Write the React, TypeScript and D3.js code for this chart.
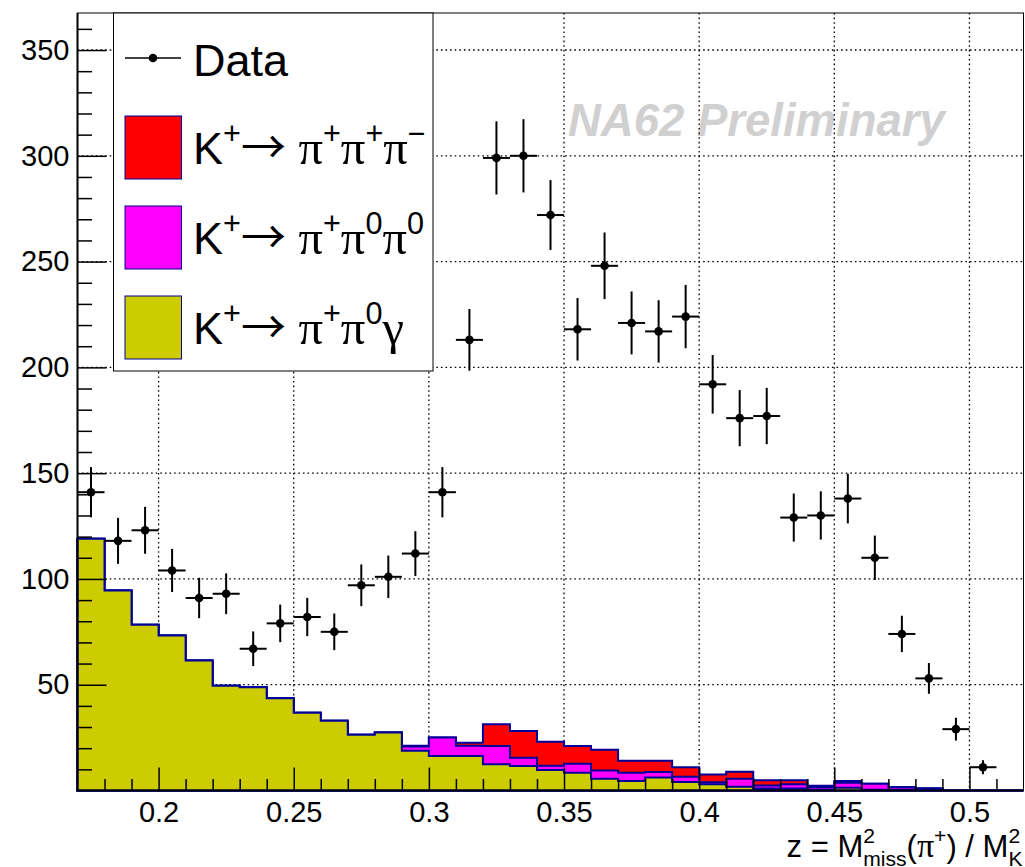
import { useEffect, useRef } from 'react';
import * as d3 from 'd3';

// histogram binning in z
const binEdges = [0.17, 0.18, 0.19, 0.20, 0.21, 0.22, 0.23, 0.24, 0.25, 0.26, 0.27, 0.28, 0.29, 0.30, 0.31, 0.32, 0.33, 0.34, 0.35, 0.36, 0.37, 0.38, 0.39, 0.40, 0.41, 0.42, 0.43, 0.44, 0.45, 0.46, 0.47, 0.48, 0.49, 0.50, 0.51, 0.52];

const dataCounts = [141, 118, 123, 104, 91, 93, 67, 79, 82, 75, 97, 101, 112, 141, 213, 299, 300, 272, 218, 248, 221, 217, 224, 192, 176, 177, 129, 130, 138, 110, 74, 53, 29, 11, 0];

// MC components (stacked bottom to top)
const kPiPi0Gamma = [119, 94.5, 78.3, 73.3, 61.4, 49.5, 48.8, 43.6, 36.8, 33.0, 26.3, 27.4, 18.8, 16.3, 16.3, 12.4, 11.6, 9.7, 8.4, 5.6, 4.5, 6.1, 4.0, 2.9, 1.8, 1.0, 0.9, 0.5, 1.3, 0.4, 0.3, 1.0, 0, 0, 0];
const kPiPi0Pi0 = [0, 0, 0, 0, 0, 0, 0, 0, 0, 0, 0, 0, 2.0, 8.7, 4.9, 8.6, 3.9, 2.0, 4.3, 3.8, 3.9, 2.6, 2.5, 1.0, 3.8, 1.4, 2.0, 1.15, 2.4, 2.8, 1.2, 0, 0, 0, 0];
const kPiPiPi = [0, 0, 0, 0, 0, 0, 0, 0, 0, 0, 0, 0, 0.3, 0, 1.4, 10.3, 12.6, 11.4, 8.3, 9.9, 5.7, 5.4, 4.5, 3.7, 3.3, 2.4, 2.0, 0.65, 0.8, 0, 0, 0, 0, 0, 0];

const xTicks = [0.2, 0.25, 0.3, 0.35, 0.4, 0.45, 0.5];
const xTickLabels = ['0.2', '0.25', '0.3', '0.35', '0.4', '0.45', '0.5'];
const yTicks = [50, 100, 150, 200, 250, 300, 350];
const yTickLabels = ['50', '100', '150', '200', '250', '300', '350'];

const sans = '"Liberation Sans", Arial, Helvetica, sans-serif';
const serif = '"Liberation Serif", "Times New Roman", serif';
const arrowFont = '"Noto Sans CJK JP", "Noto Sans CJK SC", "DejaVu Sans", sans-serif';

type Piece = { t: string; font?: string; sup?: boolean; sub?: boolean; dx?: number; scale?: number };

function richText(sel: any, pieces: Piece[], fs: number, small = 0.68) {
  let shift = 0;
  pieces.forEach(p => {
    const target = p.sup ? -0.45 * fs : p.sub ? 0.28 * fs : 0;
    const ts = sel.append('tspan')
      .attr('dy', target - shift)
      .attr('font-size', (p.sup || p.sub ? fs * small : fs) * (p.scale || 1))
      .attr('font-family', p.font || sans)
      .text(p.t);
    if (p.dx) ts.attr('dx', p.dx);
    shift = target;
  });
}

export default function App() {
  const svgRef = useRef<SVGSVGElement>(null);

  useEffect(() => {
    const svg = d3.select(svgRef.current);
    svg.selectAll('*').remove();

    const W = 1025, H = 867;
    const left = 77.5, right = 1023.5, top = 13, bottom = 790.5;

    const x = d3.scaleLinear().domain([0.17, 0.52]).range([left, right]);
    const y = d3.scaleLinear().domain([0, 367.5]).range([bottom, top]);

    svg.append('rect').attr('width', W).attr('height', H).attr('fill', 'white');

    // watermark
    svg.append('text')
      .attr('x', 568).attr('y', 136)
      .attr('font-family', sans).attr('font-size', 45.5)
      .attr('font-weight', 'bold').attr('font-style', 'italic')
      .attr('fill', '#d0d0d0')
      .text('NA62 Preliminary');

    // grid
    const grid = svg.append('g').attr('stroke', 'black').attr('stroke-width', 1.3).attr('stroke-dasharray', '1.6 3');
    grid.selectAll('.gx').data(xTicks).join('line')
      .attr('x1', d => x(d)).attr('x2', d => x(d)).attr('y1', top).attr('y2', bottom);
    grid.selectAll('.gy').data(yTicks).join('line')
      .attr('class', 'gy')
      .attr('x1', left).attr('x2', right).attr('y1', d => y(d)).attr('y2', d => y(d));

    // stacked MC
    const rows = kPiPi0Gamma.map((g, i) => ({ i, gamma: g, pi0pi0: kPiPi0Pi0[i], pi3: kPiPiPi[i] }));
    const series = d3.stack<any>().keys(['gamma', 'pi0pi0', 'pi3'])(rows);
    const colors = ['#cccc00', '#ff00ff', '#ff0000'];

    const plot = svg.append('g');
    const area = d3.area<[number, number]>()
      .x(d => x(d[0])).y0(y(0)).y1(d => y(d[1]))
      .curve(d3.curveStepAfter);

    for (let s = series.length - 1; s >= 0; s--) {
      const tops = series[s].map(d => d[1]);
      const pts: [number, number][] = tops.map((v, i) => [binEdges[i], v]);
      pts.push([binEdges[binEdges.length - 1], tops[tops.length - 1]]);
      plot.append('path')
        .attr('d', area(pts))
        .attr('fill', colors[s])
        .attr('stroke', '#000099')
        .attr('stroke-width', 2)
        .attr('stroke-linejoin', 'miter');
    }

    // data points
    const pts = dataCounts.map((n, i) => ({ n, lo: binEdges[i], hi: binEdges[i + 1] })).filter(d => d.n > 0);
    const dg = svg.append('g').attr('stroke', 'black').attr('stroke-width', 2);
    dg.selectAll('.ev').data(pts).join('line')
      .attr('x1', d => x((d.lo + d.hi) / 2)).attr('x2', d => x((d.lo + d.hi) / 2))
      .attr('y1', d => y(d.n - Math.sqrt(d.n))).attr('y2', d => y(d.n + Math.sqrt(d.n)));
    dg.selectAll('.eh').data(pts).join('line')
      .attr('class', 'eh')
      .attr('x1', d => x(d.lo)).attr('x2', d => x(d.hi))
      .attr('y1', d => y(d.n)).attr('y2', d => y(d.n));
    svg.append('g').selectAll('circle').data(pts).join('circle')
      .attr('cx', d => x((d.lo + d.hi) / 2)).attr('cy', d => y(d.n)).attr('r', 4.3).attr('fill', 'black');

    // axes
    const styleAxis = (g: any) => {
      g.select('.domain').remove();
      g.selectAll('.tick line').attr('stroke', 'black').attr('stroke-width', 1.5);
      g.selectAll('.tick text').attr('font-family', sans).attr('font-size', 29).attr('fill', 'black');
    };
    const yMinor = d3.range(10, 370, 10).filter(v => v % 50 !== 0);
    const xMinor = binEdges.filter(e => e > 0.171 && e < 0.519 && !xTicks.some(t => Math.abs(t - e) < 1e-6));

    svg.append('g').attr('transform', `translate(${left},0)`)
      .call(d3.axisLeft(y).tickValues(yMinor).tickSize(-14.5).tickFormat(() => ''))
      .call(styleAxis);
    svg.append('g').attr('transform', `translate(${left},0)`)
      .call(d3.axisLeft(y).tickValues(yTicks).tickSize(-29).tickPadding(8)
        .tickFormat((_d, i) => yTickLabels[i]))
      .call(styleAxis);
    svg.append('g').attr('transform', `translate(0,${bottom})`)
      .call(d3.axisBottom(x).tickValues(xMinor).tickSize(-11.5).tickFormat(() => ''))
      .call(styleAxis);
    svg.append('g').attr('transform', `translate(0,${bottom})`)
      .call(d3.axisBottom(x).tickValues(xTicks).tickSize(-23).tickPadding(11)
        .tickFormat((_d, i) => xTickLabels[i]))
      .call(styleAxis);

    // frame
    svg.append('rect').attr('x', left).attr('y', top).attr('width', right - left).attr('height', bottom - top)
      .attr('fill', 'none').attr('stroke', 'black').attr('stroke-width', 1);
    svg.append('line').attr('x1', left).attr('x2', left).attr('y1', top).attr('y2', bottom + 1)
      .attr('stroke', 'black').attr('stroke-width', 2);
    svg.append('line').attr('x1', left - 1).attr('x2', right).attr('y1', bottom).attr('y2', bottom)
      .attr('stroke', 'black').attr('stroke-width', 2);

    // legend
    const lg = svg.append('g');
    lg.append('rect').attr('x', 113.5).attr('y', 13).attr('width', 319.5).attr('height', 358)
      .attr('fill', 'white').attr('stroke', 'black').attr('stroke-width', 1);
    lg.append('line').attr('x1', 125).attr('x2', 181).attr('y1', 58).attr('y2', 58)
      .attr('stroke', 'black').attr('stroke-width', 1.5);
    lg.append('circle').attr('cx', 153).attr('cy', 58).attr('r', 4.3).attr('fill', 'black');
    const fsL = 45;
    const t0 = lg.append('text').attr('x', 193).attr('y', 76);
    richText(t0, [{ t: 'Data' }], fsL);

    const pi: Piece = { t: '\u03c0', font: serif, scale: 1.08 };
    const head: Piece[] = [{ t: 'K' }, { t: '+', sup: true }, { t: '\u2192', font: arrowFont }, { t: ' ' }];
    const entries = [
      { color: colors[2], y: 116, pieces: [...head, pi, { t: '+', sup: true }, pi, { t: '+', sup: true }, pi, { t: '\u2212', sup: true }] },
      { color: colors[1], y: 206, pieces: [...head, pi, { t: '+', sup: true }, pi, { t: '0', sup: true }, pi, { t: '0', sup: true }] },
      { color: colors[0], y: 296, pieces: [...head, pi, { t: '+', sup: true }, pi, { t: '0', sup: true }, { t: '\u03b3', font: serif, scale: 1.08 }] },
    ];
    entries.forEach(e => {
      lg.append('rect').attr('x', 125).attr('y', e.y).attr('width', 56.5).attr('height', 63)
        .attr('fill', e.color).attr('stroke', '#000099').attr('stroke-width', 1);
      const t = lg.append('text').attr('x', 193).attr('y', e.y + 48);
      richText(t, e.pieces, fsL, 0.68);
    });

    // x-axis title
    const fsT = 31;
    const sw = 0.556 * fsT * 0.68;
    const tt = svg.append('text').attr('x', right - 1).attr('y', 857).attr('text-anchor', 'end');
    richText(tt, [
      { t: 'z = M' },
      { t: '2', sup: true },
      { t: 'miss', sub: true, dx: -sw },
      { t: '(' },
      { t: '\u03c0', font: serif, scale: 1.1 },
      { t: '+', sup: true },
      { t: ') / M' },
      { t: '2', sup: true },
      { t: 'K', sub: true, dx: -sw },
    ], fsT);
  }, []);

  return (
    <div style={{ position: 'absolute', left: 0, top: 0 }}>
      <svg ref={svgRef} width={1025} height={867} />
    </div>
  );
}
